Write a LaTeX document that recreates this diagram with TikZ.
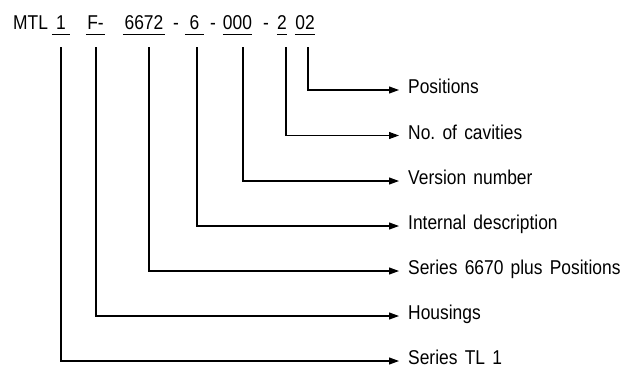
\documentclass[tikz,border=0pt]{standalone}
\usepackage{fontspec}
\setmainfont{Liberation Sans}[FakeStretch=0.87, WordSpace=1.5]
\usetikzlibrary{arrows.meta}

\begin{document}
\begin{tikzpicture}[x=1pt, y=-1pt, font=\fontsize{20}{24}\selectfont,
 code/.style={anchor=base, inner sep=0pt, text depth=5.5pt},
 lbl/.style={anchor=west, inner xsep=9pt, inner ysep=0pt, text height=0.716em, text depth=0pt},
 uline/.style={line width=1.1pt},
 arr/.style={-{Triangle[length=10pt, width=7pt]}, line width=1.1pt}]
\useasboundingbox (0,0) rectangle (639,372);
% order number
\node[anchor=base west, inner sep=0pt] (mtl) at (13,29) {MTL};
\node[code, minimum width=18pt] (c1) at (61,29) {1};
\node[code, minimum width=19pt] (cF) at (95.5,29) {F-};
\node[code, minimum width=42pt] (c6672) at (144,29) {6672};
\node[code] (d1) at (176,29) {-};
\node[code, minimum width=19pt] (c6) at (194.5,29) {6};
\node[code] (d2) at (213,29) {-};
\node[code, minimum width=29pt] (c000) at (237.5,29) {000};
\node[code] (d3) at (266,29) {-};
\node[code, minimum width=10pt] (c2) at (282,29) {2};
\node[code, minimum width=20pt] (c02) at (305,29) {02};
\foreach \n in {c1,cF,c6672,c6,c000,c2,c02}
  \draw[uline] (\n.south west) -- (\n.south east);
% meanings
\node[lbl] (pos) at (399,90) {Positions};
\node[lbl] (cav) at (399,135.5) {No.\ of cavities};
\node[lbl] (ver) at (399,181) {Version number};
\node[lbl] (int) at (399,226) {Internal description};
\node[lbl] (ser) at (399,271) {Series 6670 plus Positions};
\node[lbl] (hou) at (399,316) {Housings};
\node[lbl] (stl) at (399,361) {Series TL 1};
% leaders
\coordinate (t1) at (61,47);
\coordinate (tF) at (96,47);
\coordinate (t6672) at (149,47);
\coordinate (t6) at (197,47);
\coordinate (t000) at (243,47);
\coordinate (t2) at (286,47);
\coordinate (t02) at (308,47);
\draw[arr] (t02) |- (pos.west);
\draw[arr] (t2) |- (cav.west);
\draw[arr] (t000) |- (ver.west);
\draw[arr] (t6) |- (int.west);
\draw[arr] (t6672) |- (ser.west);
\draw[arr] (tF) |- (hou.west);
\draw[arr] (t1) |- (stl.west);
\end{tikzpicture}
\end{document}
